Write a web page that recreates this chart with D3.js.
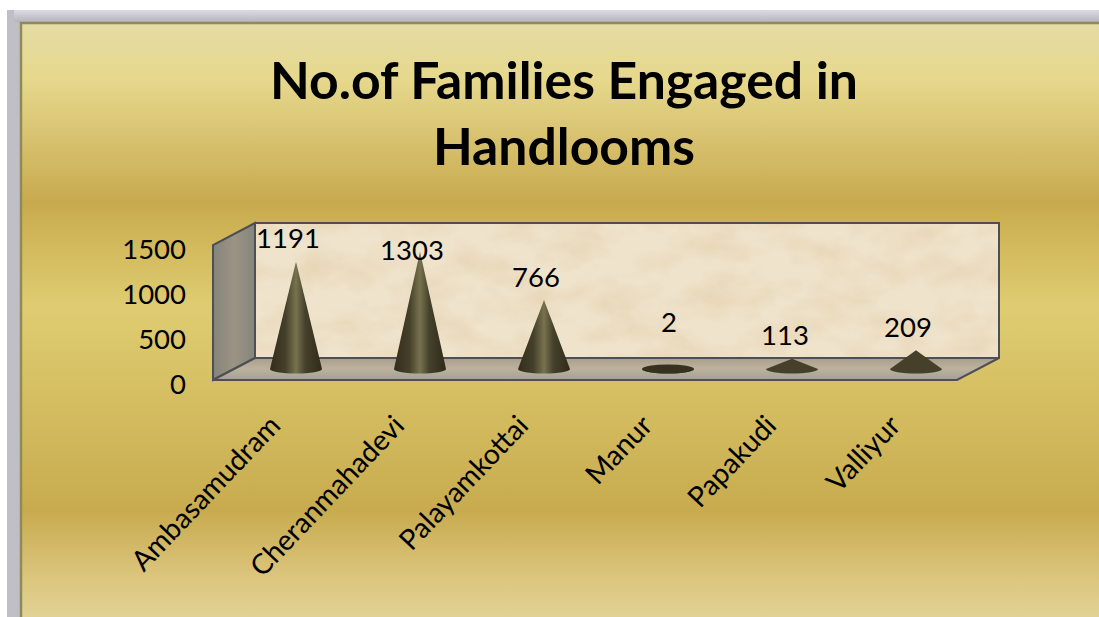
<!DOCTYPE html>
<html><head><meta charset="utf-8">
<script src="https://cdn.jsdelivr.net/npm/d3@7"></script>
<style>html,body{margin:0;padding:0;background:#fff;overflow:hidden}svg{display:block}text{font-family:Lato,"Open Sans",sans-serif;fill:#000}</style>
</head><body><svg id="c" width="1099" height="617"></svg>
<script>
const categories=["Ambasamudram","Cheranmahadevi","Palayamkottai","Manur","Papakudi","Valliyur"];
const values=[1191,1303,766,2,113,209];
const yTicks=[0,500,1000,1500];
const titleLines=["No.of Families Engaged in","Handlooms"];
// label placement relative to each cone tip (label collision offsets seen in the picture)
const labelShiftX=[-8,-8,-8,1,-7,-8];
const labelShiftY=[-23,-1,-23,-46,-23,-23];

const W=1099,H=617;
const front={x0:213,x1:957,y0:380,y1:245}, depth={dx:42,dy:-22};
const svg=d3.select("#c");
const defs=svg.append("defs");
function grad(id,stops,x2,y2){
  const g=defs.append("linearGradient").attr("id",id).attr("x1",0).attr("y1",0).attr("x2",x2).attr("y2",y2);
  stops.forEach(s=>g.append("stop").attr("offset",s[0]).attr("stop-color",s[1]));
}
grad("bg",[[0,"#e5dca6"],[.09,"#e6d88c"],[.16,"#dcc878"],[.29,"#c8aa4e"],[.36,"#d2b95c"],[.46,"#dfcc72"],[.6,"#d5bf62"],[.79,"#c8ab4f"],[.9,"#dcc67e"],[1,"#e4d9a2"]],0,1);
grad("cone",[[0,"#332e1c"],[.3,"#45402a"],[.5,"#77734f"],[.68,"#45402a"],[1,"#302b1a"]],1,0);
grad("side",[[0,"#85837a"],[.5,"#9b9484"],[1,"#86847c"]],1,0);
grad("floor",[[0,"#a89e8c"],[.5,"#bdb39c"],[1,"#a3a096"]],0,1);
grad("fl",[[0,"#c0bfc6"],[.6,"#a9a8b2"],[1,"#bcbbc4"]],1,0);
grad("ft",[[0,"#dcdbe2"],[1,"#b6b5be"]],0,1);
const f=defs.append("filter").attr("id","paper").attr("x",0).attr("y",0).attr("width",1).attr("height",1);
f.append("feTurbulence").attr("type","fractalNoise").attr("baseFrequency","0.02 0.035").attr("numOctaves",4).attr("seed",7).attr("result","n");
f.append("feColorMatrix").attr("in","n").attr("type","matrix").attr("values","0 0 0 0 0.80  0 0 0 0 0.66  0 0 0 0 0.46  0 0 0 1.5 -0.55");
f.append("feComposite").attr("in2","SourceGraphic").attr("operator","over").attr("result","a");
f.append("feComposite").attr("in","a").attr("in2","SourceAlpha").attr("operator","in");

// frame
svg.append("rect").attr("x",7).attr("y",10).attr("width",W).attr("height",H).attr("fill","url(#fl)");
svg.append("rect").attr("x",14).attr("y",10).attr("width",W).attr("height",12).attr("fill","url(#ft)");
svg.append("rect").attr("x",21).attr("y",23).attr("width",W).attr("height",H).attr("fill","url(#bg)").attr("stroke","#8f8b58").attr("stroke-width",2.5);

// title
svg.append("g").selectAll("text").data(titleLines).join("text")
  .attr("x",564).attr("y",(d,i)=>99+i*66).attr("text-anchor","middle")
  .attr("font-size",51.7).attr("font-weight",700).text(d=>d);

// scales
const y=d3.scaleLinear().domain([0,1500]).range([front.y0,front.y1]);
const x=d3.scaleBand().domain(categories).range([front.x0+depth.dx/2,front.x1+depth.dx/2]);
const line=d3.line();
const wallStroke="#4d4f55";

// walls
svg.append("path").attr("d",line([[front.x0,front.y0],[front.x0,front.y1],[front.x0+depth.dx,front.y1+depth.dy],[front.x0+depth.dx,front.y0+depth.dy]])+"Z")
  .attr("fill","url(#side)").attr("stroke",wallStroke).attr("stroke-width",2);
svg.append("rect").attr("x",front.x0+depth.dx).attr("y",front.y1+depth.dy).attr("width",front.x1-front.x0).attr("height",front.y0-front.y1)
  .attr("fill","#e6d2ac");
svg.append("rect").attr("x",front.x0+depth.dx).attr("y",front.y1+depth.dy).attr("width",front.x1-front.x0).attr("height",front.y0-front.y1)
  .attr("fill","#fff").attr("filter","url(#paper)").attr("opacity",.38);
svg.append("rect").attr("x",front.x0+depth.dx).attr("y",front.y1+depth.dy).attr("width",front.x1-front.x0).attr("height",front.y0-front.y1)
  .attr("fill","none").attr("stroke",wallStroke).attr("stroke-width",2);
svg.append("path").attr("d",line([[front.x0,front.y0],[front.x1,front.y0],[front.x1+depth.dx,front.y0+depth.dy],[front.x0+depth.dx,front.y0+depth.dy]])+"Z")
  .attr("fill","url(#floor)").attr("stroke",wallStroke).attr("stroke-width",2);

// cones
const baseY=y(0)+depth.dy/2, rx=26, ry=4.5;
const h=v=>y(0)-y(v);
svg.append("g").selectAll("path").data(categories).join("path")
  .attr("fill",(d,i)=>values[i]<300?"#46402a":"url(#cone)")
  .attr("d",(d,i)=>{
    const cx=x(d)+x.bandwidth()/2, top=baseY-h(values[i]);
    return `M${cx-rx},${baseY}L${cx},${top}L${cx+rx},${baseY}A${rx},${ry} 0 0 1 ${cx-rx},${baseY}Z`;
  });
svg.append("g").selectAll("ellipse").data(categories.filter((d,i)=>values[i]<10)).join("ellipse")
  .attr("cx",d=>x(d)+x.bandwidth()/2).attr("cy",baseY).attr("rx",rx).attr("ry",ry).attr("fill","#37321f");

// data labels
svg.append("g").selectAll("text").data(categories).join("text")
  .attr("x",(d,i)=>x(d)+x.bandwidth()/2+labelShiftX[i])
  .attr("y",(d,i)=>baseY-h(values[i])+labelShiftY[i])
  .attr("dy","0.35em").attr("text-anchor","middle").attr("font-size",27.5).text((d,i)=>values[i]);

// y axis
const ax=svg.append("g").attr("transform",`translate(${front.x0},5)`)
  .call(d3.axisLeft(y).tickValues(yTicks).tickSize(0).tickPadding(27).tickFormat(d3.format("d")));
ax.select(".domain").remove();
ax.selectAll("text").attr("font-size",27.5).style("font-family","Lato");

// x labels
svg.append("g").selectAll("text").data(categories).join("text")
  .attr("transform",d=>`translate(${x(d)+x.bandwidth()/2-14},${y(0)+47}) rotate(-46.5)`)
  .attr("text-anchor","end").attr("font-size",28.3).text(d=>d);
</script></body></html>
